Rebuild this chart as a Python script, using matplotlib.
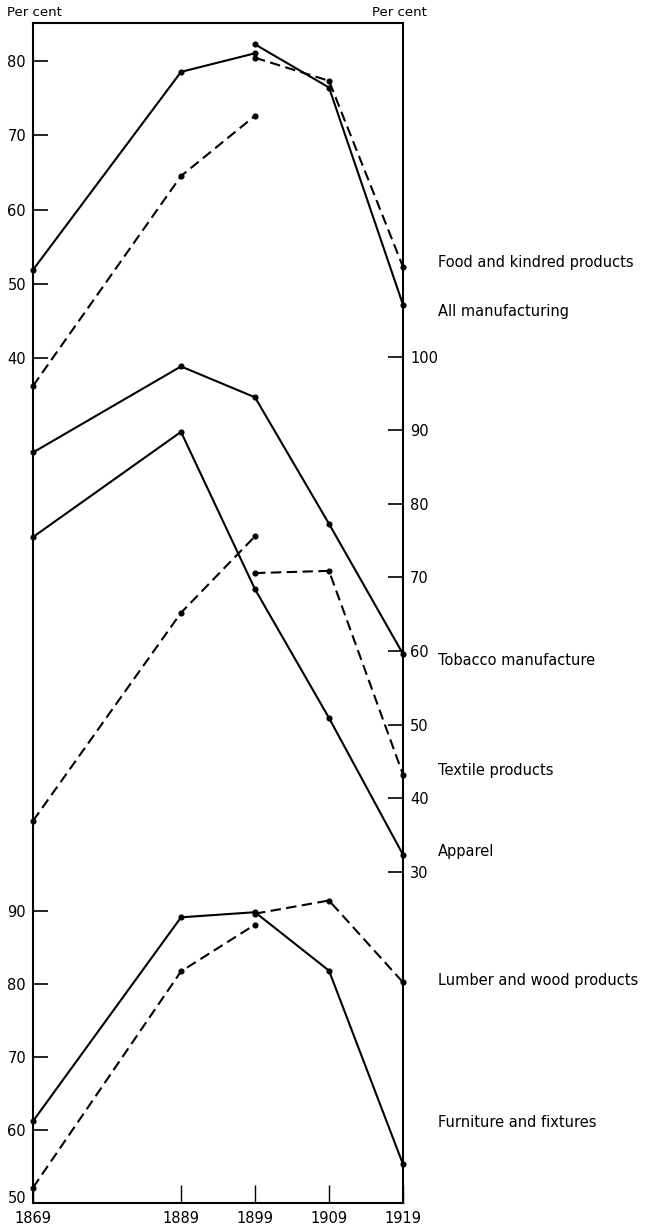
import matplotlib
matplotlib.use('Agg')
import matplotlib.pyplot as plt

# census years
years = [1869, 1889, 1899, 1909, 1919]
years_early = [1869, 1889, 1899]
years_late = [1899, 1909, 1919]

# top panel (left scale)
all_mfg_early = [51.9, 78.5, 81.0]
all_mfg_late = [82.2, 76.4, 47.2]
food_early = [36.3, 64.5, 72.6]
food_late = [80.4, 77.3, 52.3]

# middle panel (right scale)
tobacco = [87.0, 98.7, 94.5, 77.3, 59.6]
apparel = [75.5, 89.8, 68.4, 50.9, 32.3]
textile_early = [36.9, 65.2, 75.6]
textile_late = [70.6, 70.9, 43.2]

# bottom panel (left scale)
furniture = [61.2, 89.1, 89.8, 81.8, 55.3]
lumber_early = [52.1, 81.7, 88.1]
lumber_late = [89.6, 91.4, 80.2]

top_ticks = [40, 50, 60, 70, 80]
mid_ticks = [30, 40, 50, 60, 70, 80, 90, 100]
bot_ticks = [50, 60, 70, 80, 90]

W, H = 651, 1230
fig = plt.figure(figsize=(W / 100, H / 100), dpi=100)
ax1 = fig.add_axes([33 / W, 27 / H, 370 / W, 1180 / H])
ax2 = ax1.twinx()
ax3 = ax1.twinx()

FS = 10.5
solid = dict(color='black', lw=1.5, marker='o', ms=3.4, clip_on=False)
dashed = dict(color='black', lw=1.5, marker='o', ms=3.4, clip_on=False,
              linestyle=(0, (5, 2.6)))

ax1.plot(years_early, all_mfg_early, **solid)
ax1.plot(years_late, all_mfg_late, **solid)
ax1.plot(years_early, food_early, **dashed)
ax1.plot(years_late, food_late, **dashed)

ax2.plot(years, tobacco, **solid)
ax2.plot(years, apparel, **solid)
ax2.plot(years_early, textile_early, **dashed)
ax2.plot(years_late, textile_late, **dashed)

ax3.plot(years, furniture, **solid)
ax3.plot(years_early, lumber_early, **dashed)
ax3.plot(years_late, lumber_late, **dashed)

ax1.set_xlim(1869, 1919)
ax1.set_ylim(-73.5, 85.07)
ax2.set_ylim(-15.06, 145.4)
ax3.set_ylim(50, 211.5)

for sp in ax1.spines.values():
    sp.set_linewidth(1.5)
for a in (ax2, ax3):
    for sp in a.spines.values():
        sp.set_visible(False)

ax1.set_xticks(years)
ax1.set_xticklabels([str(y) for y in years], fontsize=FS)
ax1.tick_params(axis='x', direction='in', length=13, width=1.0, pad=6)

ax1.set_yticks(top_ticks)
ax1.set_yticklabels([str(t) for t in top_ticks], fontsize=FS)
ax1.tick_params(axis='y', direction='in', length=11, width=1.2, pad=5)

ax2.set_yticks(mid_ticks)
ax2.set_yticklabels([str(t) for t in mid_ticks], fontsize=FS)
ax2.tick_params(axis='y', direction='in', length=11, width=1.2, pad=5)

ax3.yaxis.set_ticks_position('left')
ax3.set_yticks(bot_ticks)
ax3.set_yticklabels([str(t) for t in bot_ticks], fontsize=FS)
ax3.tick_params(axis='y', direction='in', length=11, width=1.2, pad=5,
                left=True, right=False, labelleft=True, labelright=False)
# bottom corner label sits on the frame line
ax3.get_yticklabels()[0].set_va('baseline')

# series labels to the right of the frame
def label(ax, text, yval, dy):
    ax.annotate(text, xy=(1919, yval), xytext=(35, dy), textcoords='offset pixels',
                fontsize=FS, va='center', ha='left', annotation_clip=False)

label(ax1, 'Food and kindred products', food_late[-1], 4)
label(ax1, 'All manufacturing', all_mfg_late[-1], -7)
label(ax2, 'Tobacco manufacture', tobacco[-1], -7)
label(ax2, 'Textile products', textile_late[-1], 4)
label(ax2, 'Apparel', apparel[-1], 3)
label(ax3, 'Lumber and wood products', lumber_late[-1], 2)
label(ax3, 'Furniture and fixtures', furniture[-1], 42)

fig.text(7 / W, 1 - 12 / H, 'Per cent', fontsize=9.5, ha='left', va='center')
fig.text(372 / W, 1 - 13 / H, 'Per cent', fontsize=9.5, ha='left', va='center')

fig.savefig('out.png', dpi=100)
